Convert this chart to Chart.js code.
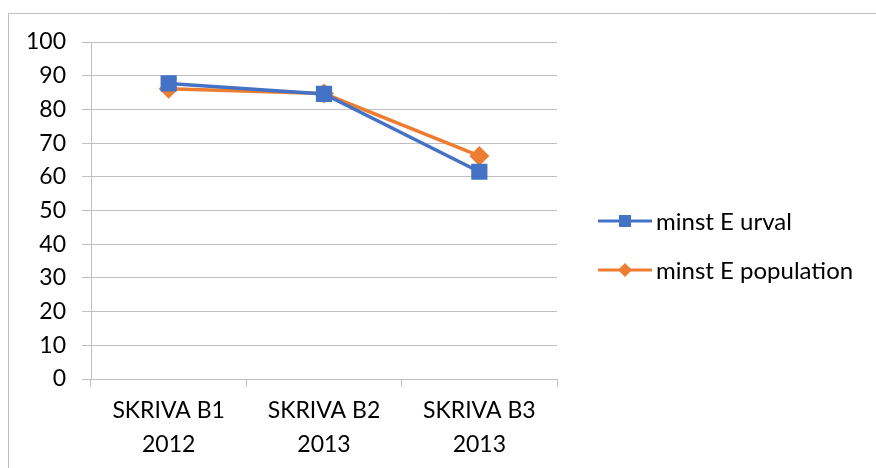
<!DOCTYPE html>
<html>
<head>
<meta charset="utf-8">
<script src="https://cdn.jsdelivr.net/npm/chart.js@4/dist/chart.umd.min.js"></script>
<style>
  html, body { margin: 0; padding: 0; background: #fff; }
  #wrap { width: 876px; height: 468px; position: relative; }
</style>
</head>
<body>
<div id="wrap"><canvas id="chart" width="876" height="468"></canvas></div>
<script>
const categories = [["SKRIVA B1", "2012"], ["SKRIVA B2", "2013"], ["SKRIVA B3", "2013"]];
const urval = [87.7, 84.6, 61.5];
const population = [86.1, 84.7, 66.2];
const seriesNames = ["minst E urval", "minst E population"];

const FONT = "Lato, 'Open Sans', sans-serif";
const BLUE = "#4472C4";
const ORANGE = "#ED7D31";
const GRID = "#bfbfbf";

// outer frame + legend drawn by hand so the line/marker swatch looks like the original
const framePlugin = {
  id: "frame",
  beforeDraw(chart) {
    const ctx = chart.ctx;
    ctx.save();
    ctx.strokeStyle = "#bfbfbf";
    ctx.lineWidth = 1;
    ctx.beginPath();
    ctx.moveTo(8.5, 468);
    ctx.lineTo(8.5, 13.5);
    ctx.lineTo(876, 13.5);
    ctx.stroke();
    ctx.restore();
  },
  afterDraw(chart) {
    const ctx = chart.ctx;
    ctx.save();
    const rows = [221, 270];
    chart.data.datasets.forEach((ds, i) => {
      const y = rows[i];
      ctx.strokeStyle = ds.borderColor;
      ctx.lineWidth = 3;
      ctx.beginPath();
      ctx.moveTo(598, y);
      ctx.lineTo(652, y);
      ctx.stroke();
      ctx.fillStyle = ds.backgroundColor;
      ctx.beginPath();
      if (ds.pointStyle === "rect") {
        ctx.rect(619, y - 6, 12, 12);
      } else {
        ctx.moveTo(625, y - 7);
        ctx.lineTo(632, y);
        ctx.lineTo(625, y + 7);
        ctx.lineTo(618, y);
        ctx.closePath();
      }
      ctx.fill();
      ctx.fillStyle = "#000";
      ctx.font = "24px " + FONT;
      ctx.textBaseline = "middle";
      ctx.fillText(ds.label, 656, y + 1);
    });
    ctx.restore();
  }
};

new Chart(document.getElementById("chart"), {
  type: "line",
  data: {
    labels: categories,
    datasets: [
      {
        label: seriesNames[0],
        data: urval,
        borderColor: BLUE,
        backgroundColor: BLUE,
        borderWidth: 3.5,
        pointStyle: "rect",
        pointRadius: 9,
        pointHoverRadius: 9,
        tension: 0
      },
      {
        label: seriesNames[1],
        data: population,
        borderColor: ORANGE,
        backgroundColor: ORANGE,
        borderWidth: 3.5,
        pointStyle: "rectRot",
        pointRadius: 7.5,
        pointHoverRadius: 7.5,
        tension: 0
      }
    ]
  },
  options: {
    responsive: false,
    animation: false,
    layout: { padding: { left: 0, top: 42, right: 319, bottom: 0 } },
    plugins: {
      legend: { display: false },
      tooltip: { enabled: false }
    },
    scales: {
      x: {
        offset: true,
        grid: {
          offset: true,
          drawOnChartArea: false,
          drawTicks: true,
          tickLength: 8,
          color: GRID
        },
        border: { color: GRID, width: 1 },
        ticks: {
          color: "#000",
          font: { family: FONT, size: 23, lineHeight: 1.48 },
          padding: 7,
          maxRotation: 0
        },
        afterFit(scale) { scale.height = 89; }
      },
      y: {
        min: 0,
        max: 100,
        ticks: {
          stepSize: 10,
          color: "#000",
          font: { family: FONT, size: 23 },
          padding: 16
        },
        grid: { color: GRID, tickLength: 9 },
        border: { color: GRID, width: 1 },
        afterFit(scale) { scale.width = 91; }
      }
    }
  },
  plugins: [framePlugin]
});
</script>
</body>
</html>
